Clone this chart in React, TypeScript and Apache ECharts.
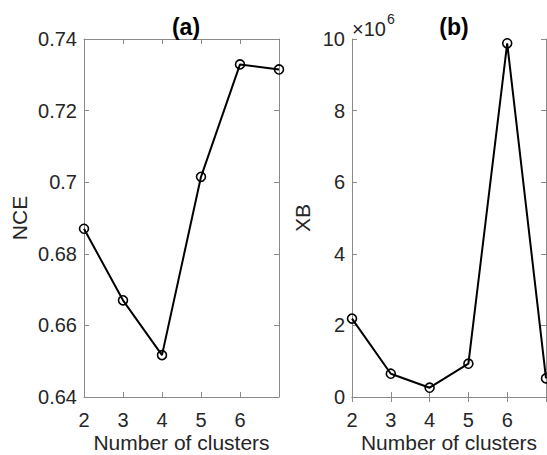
import React, { useEffect, useRef } from "react";
import * as echarts from "echarts";

const clusters = [2, 3, 4, 5, 6, 7];
const nceValues = [0.687, 0.667, 0.6517, 0.7015, 0.7329, 0.7315];
const xbValues = [2.19e6, 0.65e6, 0.26e6, 0.93e6, 9.88e6, 0.52e6];
const xTicks = [2, 3, 4, 5, 6];
const titles = ["(a)", "(b)"];
const yNames = ["NCE", "XB"];
const xName = "Number of clusters";

const FONT = "Liberation Sans, Arial, Helvetica, sans-serif";
const TEXT = "#262626";
const AXIS = "#8a8a8a";

export default function App() {
  const ref = useRef<HTMLDivElement>(null);
  useEffect(() => {
    if (!ref.current) return;
    const chart = echarts.init(ref.current, undefined, { renderer: "svg" });
    const grids = [
      { left: 84, top: 39, width: 195, height: 358, outerBoundsMode: "none", containLabel: false },
      { left: 352, top: 39, width: 194, height: 358, outerBoundsMode: "none", containLabel: false },
    ];
    const axisLine = { show: true, lineStyle: { color: AXIS, width: 1 } };
    const tick = { show: true, inside: true, length: 5, lineStyle: { color: AXIS, width: 1 } };
    const xBase = (gi: number, pos: "bottom" | "top") => ({
      type: "value" as const,
      gridIndex: gi,
      position: pos,
      min: 2,
      max: 7,
      interval: 1,
      axisLine,
      axisTick: tick,
      splitLine: { show: false },
      axisLabel:
        pos === "bottom"
          ? {
              show: true,
              color: TEXT,
              fontSize: 20,
              fontFamily: FONT,
              margin: 13,
              formatter: (v: number) => (xTicks.includes(v) ? String(v) : ""),
            }
          : { show: false },
      name: pos === "bottom" ? xName : "",
      nameLocation: "middle" as const,
      nameGap: 35,
      nameMoveOverlap: false,
      nameTextStyle: { color: TEXT, fontSize: 21, lineHeight: 21, fontFamily: FONT },
    });
    const yBase = (
      gi: number,
      pos: "left" | "right",
      min: number,
      max: number,
      interval: number,
      fmt: (v: number) => string,
      name: string,
      gap: number
    ) => ({
      type: "value" as const,
      gridIndex: gi,
      position: pos,
      min,
      max,
      interval,
      axisLine,
      axisTick: tick,
      splitLine: { show: false },
      axisLabel:
        pos === "left"
          ? { show: true, color: TEXT, fontSize: 20, fontFamily: FONT, margin: 7, formatter: fmt }
          : { show: false },
      name: pos === "left" ? name : "",
      nameLocation: "middle" as const,
      nameGap: gap,
      nameMoveOverlap: false,
      nameRotate: 90,
      nameTextStyle: { color: TEXT, fontSize: 21, fontFamily: FONT },
    });
    const nceFmt = (v: number) => String(+v.toFixed(2));
    const xbFmt = (v: number) => String(Math.round(v / 1e6));
    const series = (idx: number, data: number[]) => ({
      type: "line" as const,
      xAxisIndex: idx * 2,
      yAxisIndex: idx * 2,
      data: clusters.map((c, i) => [c, data[i]]),
      symbol: "circle",
      symbolSize: 9,
      showSymbol: true,
      clip: false,
      lineStyle: { color: "#000", width: 2 },
      itemStyle: { color: "rgba(0,0,0,0)", borderColor: "#000", borderWidth: 1.6 },
      z: 3,
    });
    const titleStyle = { color: "#000", fontSize: 23, fontWeight: "bold" as const, fontFamily: FONT };
    chart.setOption({
      animation: false,
      backgroundColor: "#fff",
      title: [
        { text: titles[0], left: 181, top: 10, textAlign: "center", textStyle: titleStyle },
        { text: titles[1], left: 449, top: 10, textAlign: "center", textStyle: titleStyle },
      ],
      grid: grids,
      xAxis: [xBase(0, "bottom"), xBase(0, "top"), xBase(1, "bottom"), xBase(1, "top")],
      yAxis: [
        yBase(0, "left", 0.64, 0.74, 0.02, nceFmt, yNames[0], 54),
        yBase(0, "right", 0.64, 0.74, 0.02, nceFmt, "", 0),
        yBase(1, "left", 0, 10e6, 2e6, xbFmt, yNames[1], 39),
        yBase(1, "right", 0, 10e6, 2e6, xbFmt, "", 0),
      ],
      series: [series(0, nceValues), series(1, xbValues)],
      graphic: [
        {
          type: "text",
          left: 352,
          top: 19,
          style: { text: "×10", fill: TEXT, fontSize: 20, fontFamily: FONT },
        },
        {
          type: "text",
          left: 387,
          top: 12,
          style: { text: "6", fill: TEXT, fontSize: 14, fontFamily: FONT },
        },
      ],
    });
    return () => chart.dispose();
  }, []);
  return <div ref={ref} style={{ width: 547, height: 455, position: "absolute", left: 0, top: 0 }} />;
}
